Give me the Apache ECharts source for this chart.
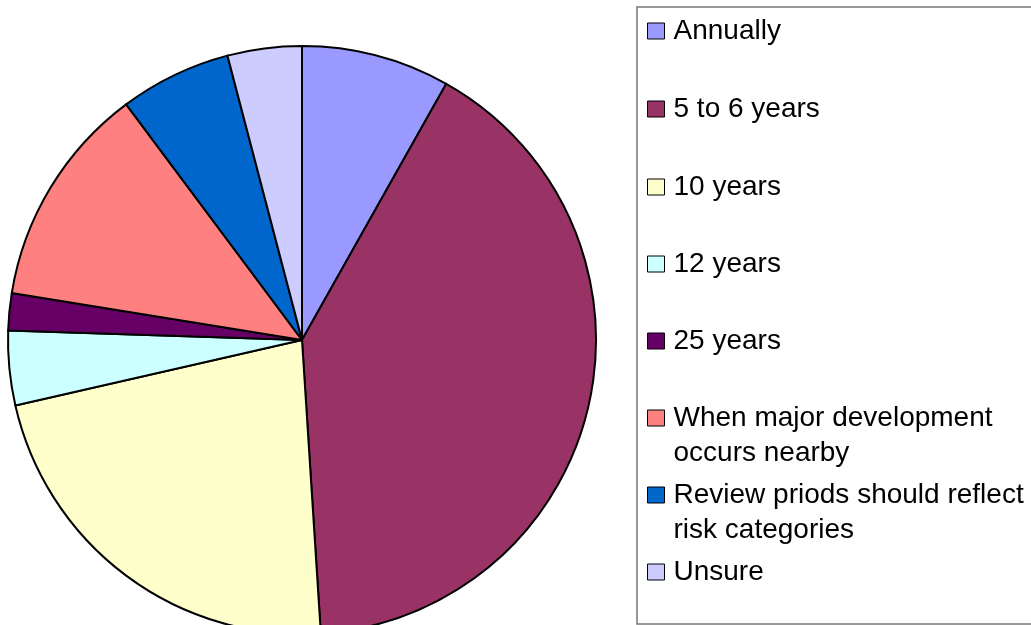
<!DOCTYPE html>
<html>
<head>
<meta charset="utf-8">
<script src="https://cdn.jsdelivr.net/npm/echarts@6/dist/echarts.min.js"></script>
<style>
html,body{margin:0;padding:0;background:#fff;}
#chart{width:1031px;height:625px;}
</style>
</head>
<body>
<div id="chart"></div>
<script>
// Data (counts)
const categories = ["Annually", "5 to 6 years", "10 years", "12 years", "25 years",
  "When major development occurs nearby", "Review priods should reflect risk categories", "Unsure"];
const values = [4, 20, 11, 2, 1, 6, 3, 2];
const colors = ["#9999FF", "#993366", "#FFFFCC", "#CCFFFF", "#660066", "#FF8080", "#0066CC", "#CCCCFF"];
const legendLabels = ["Annually", "5 to 6 years", "10 years", "12 years", "25 years",
  "When major development\noccurs nearby", "Review priods should reflect\nrisk categories", "Unsure"];

const chart = echarts.init(document.getElementById('chart'), null, {renderer: 'canvas'});

// legend marker centers (layout)
const markerCenters = [31, 109, 187, 264, 341, 418, 495, 572];
const LH = 35;
const legends = categories.map((name, i) => {
  const multi = legendLabels[i].indexOf('\n') >= 0;
  return {
    orient: 'vertical',
    left: 647,
    top: multi ? markerCenters[i] - 1.5 * LH : markerCenters[i] - LH / 2,
    padding: 0,
    itemWidth: 17,
    itemHeight: 16,
    icon: 'rect',
    selectedMode: false,
    data: [name],
    // a leading blank line keeps the first text line level with the marker
    formatter: () => (multi ? ' \n' : '') + legendLabels[i],
    itemStyle: {borderColor: '#000', borderWidth: 1},
    textStyle: {
      fontFamily: 'Liberation Sans, Arial, sans-serif',
      fontSize: 28,
      color: '#000',
      lineHeight: LH,
      padding: [0, 0, 0, 4]
    }
  };
});

chart.setOption({
  animation: false,
  color: colors,
  graphic: [{
    type: 'rect',
    shape: {x: 637, y: 7, width: 420, height: 617},
    style: {fill: 'none', stroke: '#777', lineWidth: 1.5},
    z: -1
  }],
  legend: legends,
  series: [{
    type: 'pie',
    center: [302, 340],
    radius: [0, 294],
    startAngle: 90,
    clockwise: true,
    label: {show: false},
    labelLine: {show: false},
    emphasis: {disabled: true},
    itemStyle: {borderColor: '#000', borderWidth: 2},
    data: categories.map((c, i) => ({name: c, value: values[i]}))
  }]
});
</script>
</body>
</html>
